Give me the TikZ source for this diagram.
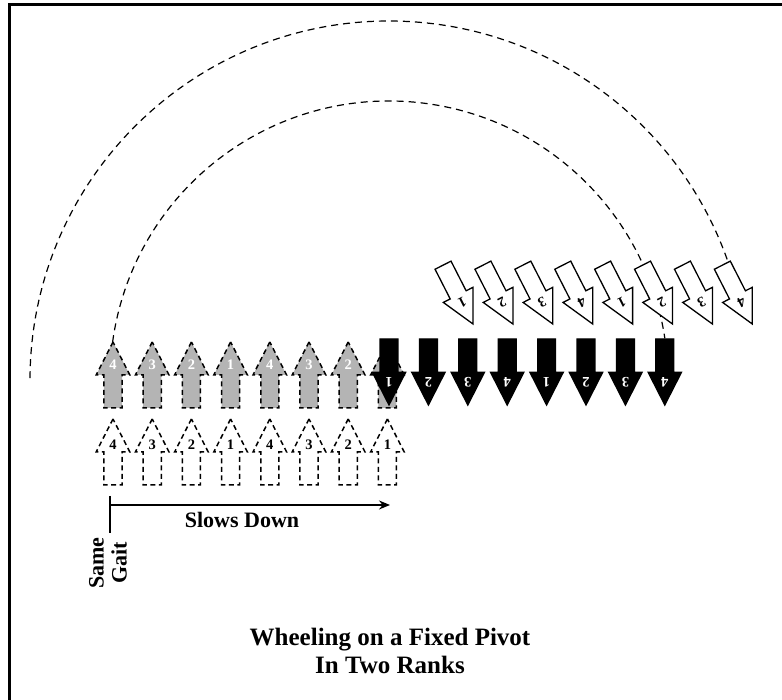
\documentclass[tikz,border=0pt]{standalone}
\usepackage{fontspec}
\setmainfont{Liberation Serif}
\usepackage{tikz}
\usetikzlibrary{shapes.arrows}
\usetikzlibrary{calc}
\usetikzlibrary{arrows.meta}

\definecolor{rankgrey}{RGB}{180,180,180}

\tikzset{
	marcher/.style={single arrow, shape border rotate=90, minimum height=66pt, minimum width=32pt, inner sep=8.3pt, outer sep=0pt, single arrow head extend=7.7pt, single arrow tip angle=54, line width=1.3pt, anchor=tip},
	ghost/.style={dash pattern=on 5pt off 3.5pt, line width=1.5pt},
	wheelpath/.style={dash pattern=on 7pt off 5pt, line width=1.2pt},
	digit/.style={font=\fontsize{14.5}{14.5}\selectfont\bfseries, inner sep=0pt},
	lbl/.style={font=\fontsize{22}{23}\selectfont\bfseries, inner sep=0pt}
}

\begin{document}
\begin{tikzpicture}[x=1pt, y=1pt]
			\useasboundingbox (0,0) rectangle (782,700);
			\draw[line width=3pt] (9,0) -- (9,695) -- (782,695);
			\coordinate (pivot) at (389,320);
			% wheel paths of the two ranks
			\draw[wheelpath] ([shift={(172.2:279)}]pivot) arc[start angle=172.2, end angle=8.6, radius=279];
			\draw[wheelpath] ([shift={(179.7:359)}]pivot) arc[start angle=179.7, end angle=18, radius=359];
			% rear rank and front rank before the wheel
			\foreach \n [count=\i from 0] in {4,3,2,1,4,3,2,1} {
				\node (w\i) at (113 + 39.2 * \i, 281) [marcher, draw, ghost, fill=white] {};
				\node (wn\i) at ($(w\i.tip)!0.39!(w\i.tail)$) [digit] {\n};
				\node (g\i) at (113 + 39.2 * \i, 358) [marcher, draw, ghost, fill=rankgrey] {};
				\node (gn\i) at ($(g\i.tip)!0.35!(g\i.tail)$) [digit, text=white] {\n};
			}
			% rank after the wheel
			\foreach \n [count=\i from 0] in {1,2,3,4,1,2,3,4} {
				\node (b\i) at (389 + 39.4 * \i, 295) [marcher, rotate=180, draw, fill=black] {};
				\node (bn\i) at ($(b\i.tip)!0.34!(b\i.tail)$) [digit, rotate=180, text=white] {\n};
			}
			% rank still wheeling
			\foreach \n [count=\i from 0] in {1,2,3,4,1,2,3,4} {
				\node (t\i) at (473 + 39.9 * \i, 376) [marcher, rotate=207, draw, fill=white] {};
				\node (tn\i) at ($(t\i.tip)!0.36!(t\i.tail)$) [digit, rotate=207] {\n};
			}
			\coordinate (gait) at (110,195);
			\coordinate (slow) at (390,195);
			\draw[line width=1.6pt] ([yshift=9pt]gait) -- ([yshift=-28pt]gait);
			\draw[line width=1.6pt, -{Stealth[length=11pt, width=9pt]}] (gait) -- (slow);
			\node (slowlbl) at (242,172) [lbl, anchor=base] {Slows Down};
			\node (gaitlbl) at (108,137) [lbl, rotate=90, align=center] {Same\\Gait};
			\node (title) at (390,49.5) [align=center, font=\fontsize{25}{28}\selectfont\bfseries, inner sep=0pt] {Wheeling on a Fixed Pivot\\In Two Ranks};
		\end{tikzpicture}
\end{document}
